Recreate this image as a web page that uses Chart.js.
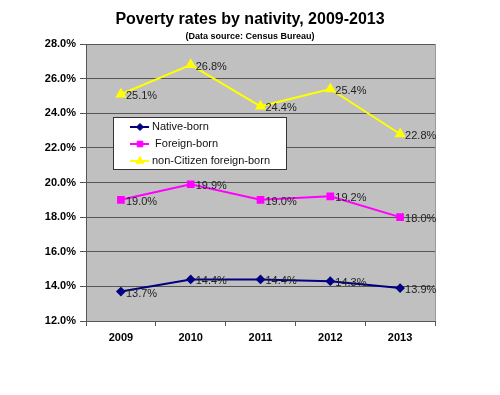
<!DOCTYPE html>
<html>
<head>
<meta charset="utf-8">
<script src="https://cdn.jsdelivr.net/npm/chart.js@4/dist/chart.umd.min.js"></script>
<style>
  body { margin: 0; background: #fff; }
</style>
</head>
<body>
<canvas id="povertyChart" width="500" height="395"></canvas>
<script>
var years = ['2009', '2010', '2011', '2012', '2013'];
var seriesNames = ['Native-born', ' Foreign-born', 'non-Citizen foreign-born'];
var nativeBorn = [13.7, 14.4, 14.4, 14.3, 13.9];
var foreignBorn = [19.0, 19.9, 19.0, 19.2, 18.0];
var nonCitizen = [25.1, 26.8, 24.4, 25.4, 22.8];
var yTicks = [12, 14, 16, 18, 20, 22, 24, 26, 28];

// grey plot area + light right border
var plotBackground = {
  id: 'plotBackground',
  beforeDraw: function(chart) {
    var a = chart.chartArea, ctx = chart.ctx;
    ctx.save();
    ctx.fillStyle = '#c0c0c0';
    ctx.fillRect(a.left, a.top, a.right - a.left, a.bottom - a.top);
    ctx.strokeStyle = '#9a9a9a';
    ctx.lineWidth = 1;
    ctx.beginPath();
    ctx.moveTo(a.right + 0.5, a.top);
    ctx.lineTo(a.right + 0.5, a.bottom);
    ctx.stroke();
    ctx.restore();
  }
};

// value labels to the right of each point
var pointLabels = {
  id: 'pointLabels',
  afterDatasetsDraw: function(chart) {
    var ctx = chart.ctx;
    ctx.save();
    ctx.font = '11px Arial, "Liberation Sans", sans-serif';
    ctx.fillStyle = '#222';
    ctx.textAlign = 'left';
    ctx.textBaseline = 'middle';
    chart.data.datasets.forEach(function(ds, i) {
      chart.getDatasetMeta(i).data.forEach(function(pt, j) {
        ctx.fillText(ds.data[j].toFixed(1) + '%', pt.x + 5, pt.y + 2);
      });
    });
    ctx.restore();
  }
};

// boxed legend inside the plot
var boxLegend = {
  id: 'boxLegend',
  afterDraw: function(chart) {
    var a = chart.chartArea, ctx = chart.ctx;
    var x = a.left + 27, y = a.top + 73, w = 173, h = 52;
    ctx.save();
    ctx.fillStyle = '#fff';
    ctx.fillRect(x, y, w, h);
    ctx.strokeStyle = '#333';
    ctx.lineWidth = 1;
    ctx.strokeRect(x + 0.5, y + 0.5, w, h);
    ctx.font = '11px Arial, "Liberation Sans", sans-serif';
    ctx.textBaseline = 'middle';
    chart.data.datasets.forEach(function(ds, i) {
      var cy = y + 10 + i * 17;
      ctx.strokeStyle = ds.borderColor;
      ctx.lineWidth = 2;
      ctx.beginPath();
      ctx.moveTo(x + 17, cy);
      ctx.lineTo(x + 36, cy);
      ctx.stroke();
      ctx.fillStyle = ds.pointBackgroundColor;
      ctx.lineWidth = 1;
      Chart.helpers.drawPoint(ctx, {
        pointStyle: ds.pointStyle, radius: ds.pointRadius, borderWidth: 1
      }, x + 27, cy);
      ctx.fillStyle = '#111';
      ctx.fillText(ds.label, x + 39, cy);
    });
    ctx.restore();
  }
};

var font = 'Arial, "Liberation Sans", sans-serif';
var ctx = document.getElementById('povertyChart').getContext('2d');
var povertyChart = new Chart(ctx, {
  type: 'line',
  data: {
    labels: years,
    datasets: [{
      label: seriesNames[0],
      data: nativeBorn,
      borderColor: '#000080',
      backgroundColor: '#000080',
      pointBackgroundColor: '#000080',
      pointStyle: 'rectRot',
      pointRadius: 3.5,
      borderWidth: 2
    }, {
      label: seriesNames[1],
      data: foreignBorn,
      borderColor: '#ff00ff',
      backgroundColor: '#ff00ff',
      pointBackgroundColor: '#ff00ff',
      pointStyle: 'rect',
      pointRadius: 4,
      borderWidth: 2
    }, {
      label: seriesNames[2],
      data: nonCitizen,
      borderColor: '#ffff00',
      backgroundColor: '#ffff00',
      pointBackgroundColor: '#ffff00',
      pointStyle: 'triangle',
      pointRadius: 4.5,
      borderWidth: 2
    }]
  },
  options: {
    responsive: false,
    animation: false,
    layout: { padding: { left: 0, right: 0, top: 0, bottom: 0 } },
    plugins: {
      legend: { display: false },
      tooltip: { enabled: false },
      title: {
        display: true,
        text: 'Poverty rates by nativity, 2009-2013',
        color: '#000',
        font: { family: font, size: 16, weight: 'bold' },
        padding: { top: 10, bottom: 0 }
      },
      subtitle: {
        display: true,
        text: '(Data source: Census Bureau)',
        color: '#000',
        font: { family: font, size: 9, weight: 'bold' },
        padding: { top: 2, bottom: 2 }
      }
    },
    scales: {
      x: {
        offset: true,
        grid: { drawOnChartArea: false, drawTicks: true, tickLength: 5, offset: true, color: '#555' },
        border: { color: '#555', width: 1 },
        ticks: {
          color: '#000',
          padding: 5,
          font: { family: font, size: 11, weight: 'bold' }
        },
        afterFit: function(scale) { scale.height = 74; }
      },
      y: {
        min: yTicks[0],
        max: yTicks[yTicks.length - 1],
        afterBuildTicks: function(scale) {
          scale.ticks = yTicks.map(function(v) { return { value: v }; });
        },
        grid: { color: '#555', tickLength: 6 },
        border: { color: '#555', width: 1 },
        ticks: {
          color: '#000',
          padding: 4,
          font: { family: font, size: 11, weight: 'bold' },
          callback: function(v) { return v.toFixed(1) + '%'; }
        },
        afterFit: function(scale) { scale.width = 86; }
      },
      // empty right-hand axis, only reserves the white margin
      yRight: {
        position: 'right',
        grid: { display: false },
        border: { display: false },
        ticks: { display: false },
        afterFit: function(scale) { scale.width = 65; }
      }
    }
  },
  plugins: [plotBackground, pointLabels, boxLegend]
});
</script>
</body>
</html>
